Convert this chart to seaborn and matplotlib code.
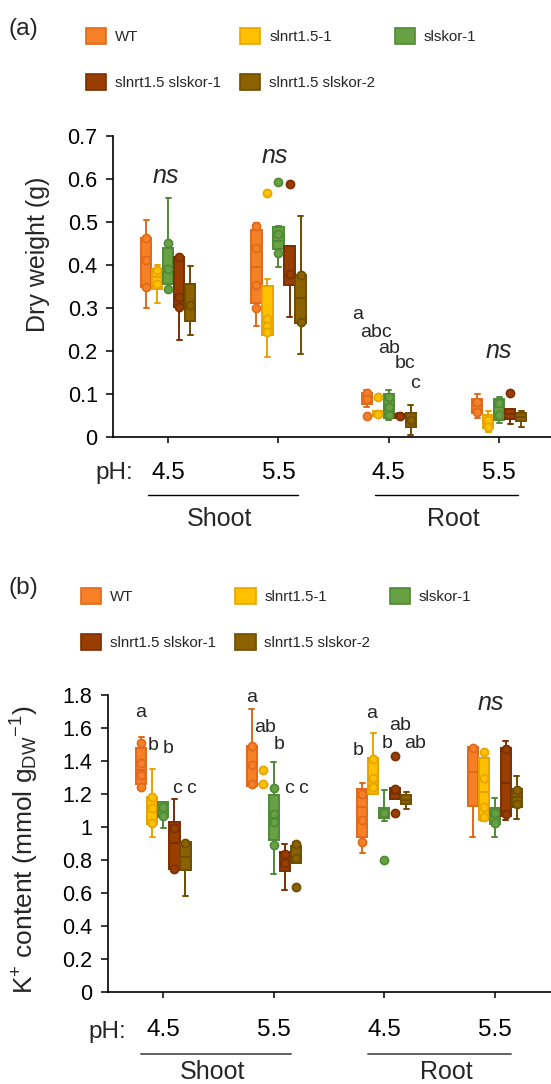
import numpy as np
import pandas as pd
import matplotlib
matplotlib.use("Agg")
import matplotlib.pyplot as plt
import seaborn as sns
from matplotlib.patches import Patch
from matplotlib.lines import Line2D

# ---------------- data ----------------
genotypes = ["WT", "slnrt1.5-1", "slskor-1", "slnrt1.5 slskor-1", "slnrt1.5 slskor-2"]
tissues = ["Shoot", "Shoot", "Root", "Root"]
ph_labels = ["4.5", "5.5", "4.5", "5.5"]
groups = [f"{t} {p}" for t, p in zip(tissues, ph_labels)]

fill_colors = ["#F58025", "#FFC000", "#68A044", "#993D00", "#8C6200"]
edge_colors = ["#E0691C", "#E6A400", "#4F8A36", "#7A2F00", "#6E4C00"]

# (a) Dry weight (g): box stats per group (whisker low, Q1, median, Q3, whisker high)
dw_box_wt = [(0.300, 0.350, 0.410, 0.462, 0.505), (0.259, 0.311, 0.396, 0.482, 0.497),
             (0.070, 0.078, 0.090, 0.104, 0.110), (0.046, 0.056, 0.073, 0.090, 0.100)]
dw_box_nrt = [(0.313, 0.345, 0.373, 0.392, 0.400), (0.186, 0.238, 0.276, 0.352, 0.367),
              (0.048, 0.050, 0.055, 0.060, 0.062), (0.013, 0.021, 0.030, 0.052, 0.062)]
dw_box_skor = [(0.338, 0.356, 0.392, 0.439, 0.557), (0.396, 0.437, 0.455, 0.489, 0.492),
               (0.040, 0.045, 0.070, 0.100, 0.110), (0.033, 0.040, 0.070, 0.090, 0.093)]
dw_box_dm1 = [(0.226, 0.303, 0.330, 0.420, 0.424), (0.279, 0.354, 0.379, 0.445, 0.445),
              (0.044, 0.045, 0.050, 0.054, 0.056), (0.032, 0.042, 0.055, 0.065, 0.065)]
dw_box_dm2 = [(0.238, 0.271, 0.307, 0.356, 0.399), (0.193, 0.265, 0.323, 0.377, 0.514),
              (0.005, 0.023, 0.040, 0.057, 0.075), (0.025, 0.037, 0.048, 0.057, 0.060)]
# (a) individual points per group
dw_pts_wt = [[0.462, 0.412, 0.350], [0.492, 0.439, 0.354, 0.300], [0.104, 0.090, 0.050], [0.083, 0.059]]
dw_pts_nrt = [[0.388, 0.357], [0.568, 0.275, 0.258, 0.245], [0.093, 0.053], [0.040, 0.025]]
dw_pts_skor = [[0.452, 0.392, 0.345], [0.592, 0.473, 0.428], [0.093, 0.071, 0.052], [0.079, 0.052]]
dw_pts_dm1 = [[0.420, 0.327, 0.303], [0.588, 0.379], [0.050], [0.102]]
dw_pts_dm2 = [[0.307], [0.376, 0.268], [0.040], []]

# (b) K+ content (mmol g-1 DW)
k_box_wt = [(1.237, 1.260, 1.344, 1.476, 1.543), (1.248, 1.248, 1.370, 1.492, 1.713),
            (0.843, 0.940, 1.122, 1.228, 1.268), (0.937, 1.128, 1.334, 1.486, 1.486)]
k_box_nrt = [(0.940, 1.017, 1.110, 1.183, 1.349), (1.260, 1.260, 1.260, 1.260, 1.260),
             (1.199, 1.199, 1.300, 1.416, 1.568), (1.035, 1.042, 1.213, 1.416, 1.416)]
k_box_skor = [(0.991, 1.062, 1.100, 1.149, 1.153), (0.714, 0.920, 1.050, 1.193, 1.395),
              (1.035, 1.051, 1.080, 1.113, 1.223), (0.937, 1.017, 1.060, 1.113, 1.177)]
k_box_dm1 = [(0.742, 0.742, 0.900, 1.028, 1.167), (0.617, 0.734, 0.790, 0.849, 0.896),
             (1.168, 1.168, 1.200, 1.233, 1.233), (1.042, 1.066, 1.268, 1.476, 1.523)]
k_box_dm2 = [(0.580, 0.738, 0.820, 0.910, 0.910), (0.782, 0.782, 0.820, 0.884, 0.910),
             (1.108, 1.139, 1.166, 1.193, 1.214), (1.046, 1.122, 1.183, 1.228, 1.310)]
k_pts_wt = [[1.507, 1.389, 1.315, 1.240], [1.488, 1.375, 1.260], [1.199, 1.042, 0.906], [1.480]]
k_pts_nrt = [[1.179, 1.112, 1.021], [1.345, 1.260], [1.410, 1.295, 1.240], [1.456, 1.295, 1.122, 1.060]]
k_pts_skor = [[1.118, 1.066], [1.234, 1.078, 1.031, 0.890], [1.082, 0.799], [1.086, 1.025]]
k_pts_dm1 = [[0.991, 0.742], [0.835, 0.779], [1.430, 1.229, 1.086], [1.470, 1.077]]
k_pts_dm2 = [[0.904], [0.896, 0.809, 0.637], [], [1.224, 1.139]]

# significance letters: (x in category units, y, text)
dw_letters = [(1.719, 0.274, "a"), (1.882, 0.234, "abc"), (2.005, 0.197, "ab"),
              (2.148, 0.160, "bc"), (2.239, 0.115, "c")]
dw_ns = [(-0.02, 0.590), (0.964, 0.637), (3.0, 0.184)]
k_letters = [(-0.206, 1.668, "a"), (-0.091, 1.466, "b"), (0.044, 1.446, "b"),
             (0.120, 1.207, "c"), (0.250, 1.207, "c"),
             (0.803, 1.759, "a"), (0.925, 1.577, "ab"), (1.045, 1.472, "b"),
             (1.139, 1.203, "c"), (1.266, 1.203, "c"),
             (1.767, 1.436, "b"), (1.889, 1.658, "a"), (2.024, 1.476, "b"),
             (2.145, 1.587, "ab"), (2.281, 1.476, "ab")]
k_ns = [(2.964, 1.709)]

# ---------------- style ----------------
sns.set_style("ticks")
plt.rcParams["font.family"] = ["Liberation Sans", "DejaVu Sans"]
plt.rcParams["mathtext.fontset"] = "custom"
plt.rcParams["mathtext.rm"] = "Liberation Sans"
plt.rcParams["mathtext.it"] = "Liberation Sans:italic"

W, H = 551, 1084
fig = plt.figure(figsize=(W / 100, H / 100), dpi=100)

BOX_WIDTH = 0.5
slot = BOX_WIDTH / len(genotypes)


def px(x, y):
    return x / W, 1 - y / H


def box_frame(box_lists):
    rows = []
    for g, stats in zip(genotypes, box_lists):
        for grp, st in zip(groups, stats):
            for v in st:
                rows.append((g, grp, v))
    return pd.DataFrame(rows, columns=["genotype", "group", "value"])


def draw_panel(ax, box_lists, pt_lists):
    df = box_frame(box_lists)
    pal = dict(zip(genotypes, fill_colors))
    for i, g in enumerate(genotypes):
        sns.boxplot(data=df[df.genotype == g], x="group", y="value", hue="genotype",
                    order=groups, hue_order=genotypes, palette=pal, dodge=True,
                    width=BOX_WIDTH, gap=0.08, whis=(0, 100), showfliers=False,
                    linecolor=edge_colors[i], linewidth=1.4, saturation=1,
                    legend=False, ax=ax)
    for i, g in enumerate(genotypes):
        xs, ys = [], []
        for j, vals in enumerate(pt_lists[i]):
            for v in vals:
                xs.append(j + (i - (len(genotypes) - 1) / 2) * slot)
                ys.append(v)
        if xs:
            ax.scatter(xs, ys, s=34, color=fill_colors[i], edgecolor=edge_colors[i],
                       linewidth=1.2, zorder=5, clip_on=False)


def style_axes(ax, ymax, yticks, ylabel, label_xy, xlim, tickpad, label_size):
    ax.set_xlim(*xlim)
    ax.set_ylim(0, ymax)
    ax.set_yticks(yticks)
    ax.set_yticklabels([f"{v:g}" for v in yticks])
    ax.set_xticks(range(len(groups)))
    ax.set_xticklabels(ph_labels)
    ax.set_xlabel("")
    ax.set_ylabel(ylabel, fontsize=label_size)
    ax.yaxis.set_label_coords(*label_xy)
    for s in ["top", "right"]:
        ax.spines[s].set_visible(False)
    for s in ["left", "bottom"]:
        ax.spines[s].set_linewidth(1.2)
        ax.spines[s].set_color("black")
    ax.tick_params(axis="y", length=5, width=1.1, labelsize=15.5, pad=6, colors="black")
    ax.tick_params(axis="x", length=4, width=1.1, labelsize=17.5, pad=tickpad, colors="black")


def legend(anchor):
    handles = [Patch(facecolor=f, edgecolor=e, linewidth=1.2, label=g)
               for g, f, e in zip(genotypes, fill_colors, edge_colors)]
    order = [0, 3, 1, 4, 2]
    fig.legend(handles=[handles[k] for k in order], ncol=3, loc="upper left",
               bbox_to_anchor=anchor, frameon=False, fontsize=10.8,
               handlelength=1.35, handleheight=1.28, handletextpad=0.58,
               columnspacing=1.30, labelspacing=2.0, borderpad=0, borderaxespad=0)


# ---------------- panel (a) ----------------
axA = fig.add_axes([113 / W, 1 - 437.3 / H, (W - 113) / W, (437.3 - 136) / H])
draw_panel(axA, [dw_box_wt, dw_box_nrt, dw_box_skor, dw_box_dm1, dw_box_dm2],
           [dw_pts_wt, dw_pts_nrt, dw_pts_skor, dw_pts_dm1, dw_pts_dm2])
style_axes(axA, 0.7, np.round(np.arange(0, 0.71, 0.1), 1), "Dry weight (g)",
           (-0.144, 0.608), (-0.50, 3.47), 13.5, 18)
for x, y, t in dw_letters:
    axA.text(x, y, t, ha="center", va="baseline", fontsize=14)
for x, y in dw_ns:
    axA.text(x, y, "ns", ha="center", va="baseline", fontsize=18, style="italic")

# ---------------- panel (b) ----------------
axB = fig.add_axes([107.5 / W, 1 - 991.7 / H, (W - 107.5) / W, (991.7 - 695) / H])
draw_panel(axB, [k_box_wt, k_box_nrt, k_box_skor, k_box_dm1, k_box_dm2],
           [k_pts_wt, k_pts_nrt, k_pts_skor, k_pts_dm1, k_pts_dm2])
style_axes(axB, 1.8, np.round(np.arange(0, 1.81, 0.2), 1),
           r"K$^{+}$ content (mmol g$_{\mathrm{DW}}$$^{\mathrm{-1}}$)",
           (-0.150, 0.4776), (-0.506, 3.51), 15.5, 19)
for x, y, t in k_letters:
    axB.text(x, y, t, ha="center", va="baseline", fontsize=14)
for x, y in k_ns:
    axB.text(x, y, "ns", ha="center", va="baseline", fontsize=18, style="italic")

# ---------------- annotations outside axes ----------------
fig.text(*px(8.8, 35), "(a)", fontsize=17.6, ha="left", va="baseline")
fig.text(*px(8.0, 594), "(b)", fontsize=17.6, ha="left", va="baseline")
legend(px(85.7, 27.7))
legend(px(81.0, 587.7))

fig.text(*px(133, 479.3), "pH:", fontsize=17.5, ha="right", va="baseline")
fig.text(*px(126.5, 1037.8), "pH:", fontsize=17.5, ha="right", va="baseline")

for (x0, x1, y, c, lw) in [(148.3, 298.3, 495, "black", 1.0), (375.3, 518.3, 495, "black", 1.0),
                           (140.5, 291, 1054.4, "#606060", 1.4), (368, 511, 1054.4, "#606060", 1.4)]:
    fig.add_artist(Line2D([x0 / W, x1 / W], [1 - y / H, 1 - y / H], color=c, lw=lw,
                          transform=fig.transFigure))

fig.text(*px(220, 526), "Shoot", fontsize=18, ha="center", va="baseline")
fig.text(*px(453, 526), "Root", fontsize=18, ha="center", va="baseline")
fig.text(*px(212.6, 1079), "Shoot", fontsize=18, ha="center", va="baseline")
fig.text(*px(446, 1079), "Root", fontsize=18, ha="center", va="baseline")

fig.savefig("out.png", dpi=100)
